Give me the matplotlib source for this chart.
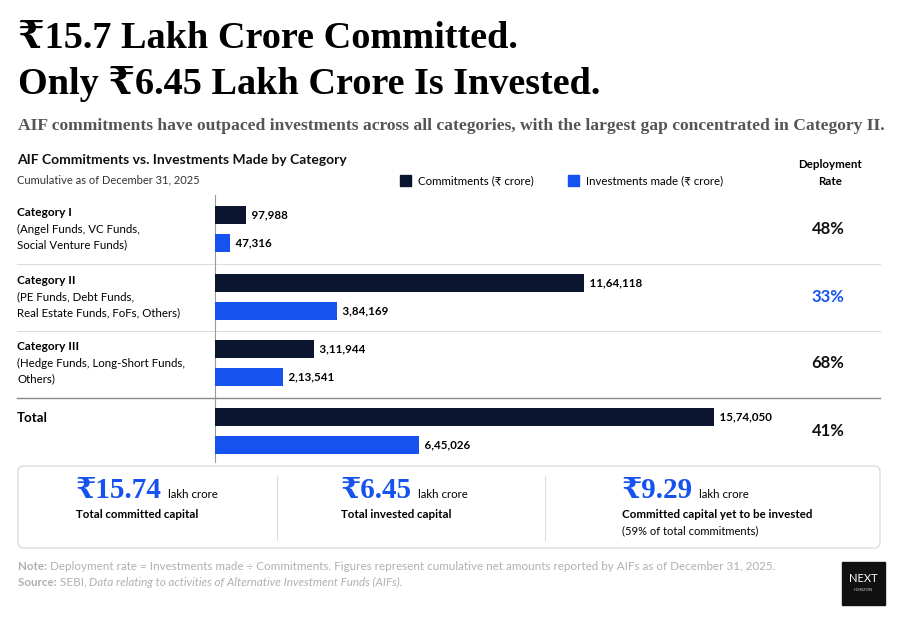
import matplotlib.pyplot as plt
from matplotlib.patches import FancyBboxPatch, Rectangle

cat_names = ["Category I", "Category II", "Category III", "Total"]
cat_desc = ["(Angel Funds, VC Funds,\nSocial Venture Funds)",
            "(PE Funds, Debt Funds,\nReal Estate Funds, FoFs, Others)",
            "(Hedge Funds, Long-Short Funds,\nOthers)", ""]
commitments = [97988, 1164118, 311944, 1574050]
investments = [47316, 384169, 213541, 645026]
commit_labels = ["97,988", "11,64,118", "3,11,944", "15,74,050"]
invest_labels = ["47,316", "3,84,169", "2,13,541", "6,45,026"]
rates = ["48%", "33%", "68%", "41%"]

NAVY = "#0b1530"
BLUE = "#1652ef"
GREY = "#b0b0b0"
SANS = ["Lato", "DejaVu Sans"]
SERIF = ["Liberation Serif", "DejaVu Serif"]

W, H = 900, 619
fig = plt.figure(figsize=(9, 6.19), dpi=100)
fig.patch.set_facecolor("white")

bg = fig.add_axes([0, 0, 1, 1])
bg.set_xlim(0, W)
bg.set_ylim(H, 0)
bg.axis("off")


def run(x, y, parts, **kw):
    # draw consecutive text pieces on one line
    fig.canvas.draw()
    for txt, extra in parts:
        t = bg.text(x, y, txt, va="center", **kw, **extra)
        fig.canvas.draw()
        x += t.get_window_extent().width
    return x


bg.text(18, 38, "₹15.7 Lakh Crore Committed.", family=SERIF, weight="bold",
        fontsize=27.5, color="black", va="center")
bg.text(18, 84, "Only ₹6.45 Lakh Crore Is Invested.", family=SERIF, weight="bold",
        fontsize=27.5, color="black", va="center")
bg.text(18, 126, "AIF commitments have outpaced investments across all categories, "
        "with the largest gap concentrated in Category II.", family=SERIF,
        weight="bold", fontsize=12.6, color="#555555", va="center")

bg.text(17, 160, "AIF Commitments vs. Investments Made by Category", family=SANS,
        weight="bold", fontsize=10, color="#111111", va="center")
bg.text(17, 180, "Cumulative as of December 31, 2025", family=SANS,
        fontsize=8, color="#333333", va="center")

bg.add_patch(Rectangle((400, 175), 11, 11, color=NAVY))
bg.text(418, 181, "Commitments (₹ crore)", family=SANS, fontsize=8.3, va="center")
bg.add_patch(Rectangle((568, 175), 11, 11, color=BLUE))
bg.text(586, 181, "Investments made (₹ crore)", family=SANS, fontsize=8.3, va="center")
bg.text(830, 173, "Deployment\nRate", family=SANS, weight="bold", fontsize=8.3,
        ha="center", va="center", linespacing=1.6)

row_top = [205, 273, 339, 407]
gap = 28
for i in range(4):
    y0 = row_top[i]
    if i < 3:
        bg.text(17, y0 + 8, cat_names[i], family=SANS, weight="bold", fontsize=8.6,
                va="center")
        bg.text(17, y0 + 32, cat_desc[i], family=SANS, fontsize=8.3, va="center",
                linespacing=1.5)
    else:
        bg.text(17, y0 + 11, cat_names[i], family=SANS, weight="bold", fontsize=9.5,
                va="center")
    bg.text(828, y0 + 24, rates[i], family=SANS, weight="bold", fontsize=12,
            ha="center", va="center", color=BLUE if i == 1 else "#111111")
for y in [264, 331]:
    bg.plot([17, 880], [y, y], color="#dddddd", lw=0.8)
bg.plot([17, 880], [398, 398], color="#888888", lw=1)
bg.plot([215, 215], [195, 462], color="#999999", lw=0.8)

x0, x1 = 215, 775
ytop, ybot = 195, 462
ax = fig.add_axes([x0 / W, 1 - ybot / H, (x1 - x0) / W, (ybot - ytop) / H])
ax.set_xlim(0, 1574050 * (x1 - x0) / 499)
ax.set_ylim(ybot, ytop)
ax.axis("off")
ax.patch.set_alpha(0)
for i in range(4):
    yc = row_top[i] + 10
    ax.barh(yc, commitments[i], height=18, color=NAVY)
    ax.barh(yc + gap, investments[i], height=18, color=BLUE)
    ax.text(commitments[i], yc, "  " + commit_labels[i], family=SANS, weight="bold",
            fontsize=8.3, va="center")
    ax.text(investments[i], yc + gap, "  " + invest_labels[i], family=SANS,
            weight="bold", fontsize=8.3, va="center")

bg.add_patch(FancyBboxPatch((18, 466), 862, 82, boxstyle="round,pad=0,rounding_size=6",
                            fc="white", ec="#dddddd", lw=1))
for x in [277, 545]:
    bg.plot([x, x], [476, 540], color="#dddddd", lw=0.8)
boxes = [(76, "₹15.74", "Total committed capital", ""),
         (341, "₹6.45", "Total invested capital", ""),
         (622, "₹9.29", "Committed capital yet to be invested",
          "(59% of total commitments)")]
for bx, big, lab, sub in boxes:
    t = bg.text(bx, 490, big, family=SERIF, weight="bold", fontsize=21, color=BLUE,
                va="center")
    fig.canvas.draw()
    ext = t.get_window_extent()
    bg.text(bx + ext.width + 6, 494, "lakh crore", family=SANS, fontsize=8.3,
            va="center")
    bg.text(bx, 514, lab, family=SANS, weight="bold", fontsize=8.3, va="center")
    if sub:
        bg.text(bx, 531, sub, family=SANS, fontsize=8, va="center")

run(18, 566, [("Note: ", dict(weight="bold")),
              ("Deployment rate = Investments made ÷ Commitments. Figures represent "
               "cumulative net amounts reported by AIFs as of December 31, 2025.", {})],
    family=SANS, fontsize=8.4, color=GREY)
run(18, 582, [("Source: ", dict(weight="bold")), ("SEBI, ", {}),
              ("Data relating to activities of Alternative Investment Funds (AIFs).",
               dict(style="italic"))],
    family=SANS, fontsize=8.4, color=GREY)

bg.add_patch(Rectangle((842, 562), 43, 43, color="#111111"))
bg.text(863, 579, "NEXT", family=SANS, fontsize=8, color="white", ha="center",
        va="center")
bg.text(863, 590, "HORIZON", family=SANS, fontsize=3, color="#cccccc", ha="center",
        va="center")

fig.savefig("out.png", dpi=100)
